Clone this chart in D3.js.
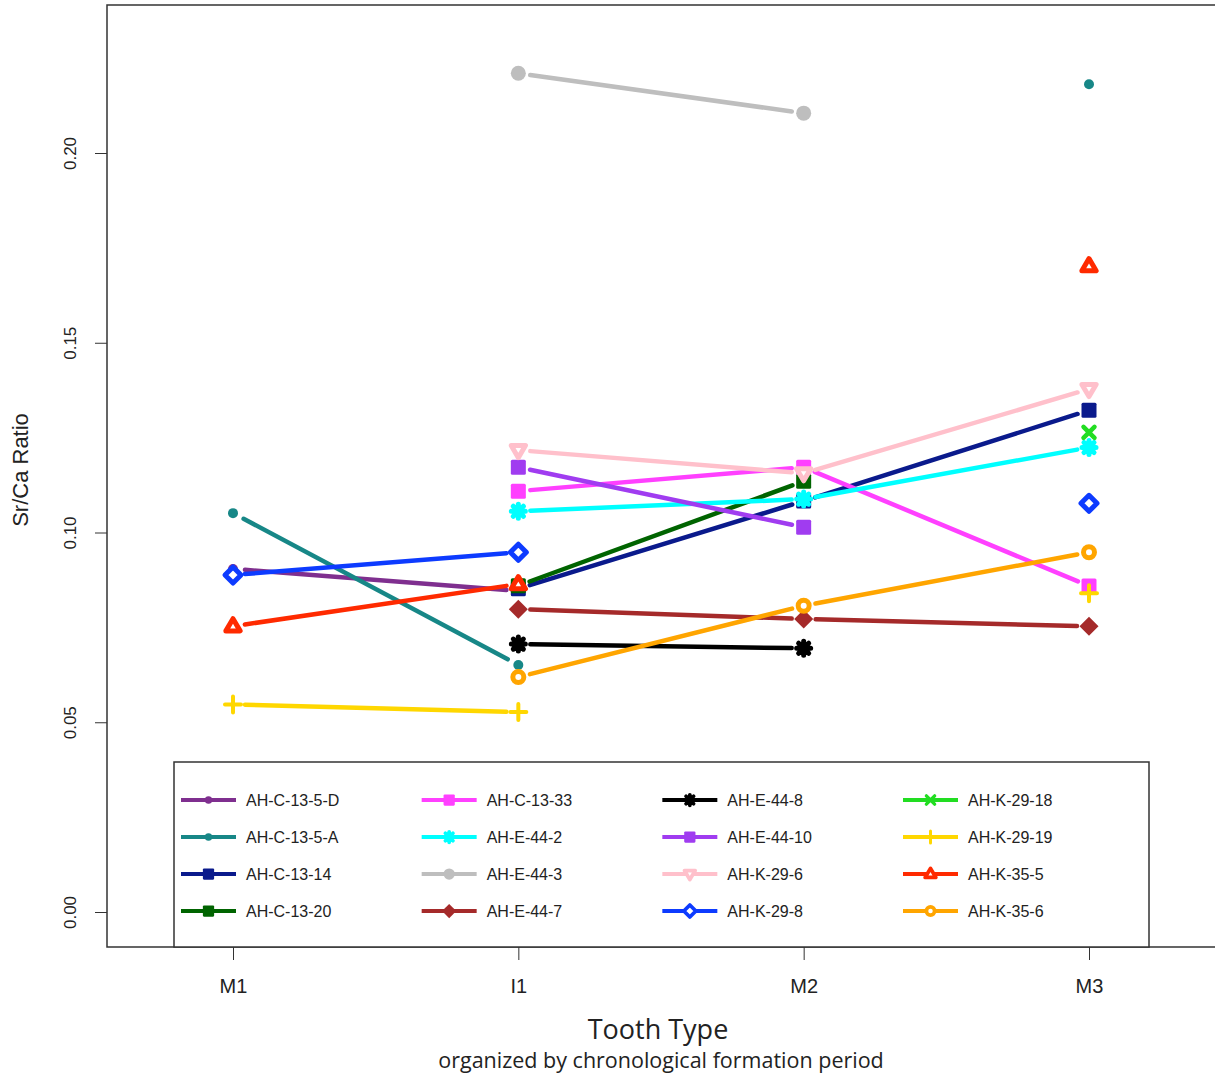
<!DOCTYPE html>
<html>
<head>
<meta charset="utf-8">
<script src="https://cdnjs.cloudflare.com/ajax/libs/d3/7.8.5/d3.min.js"></script>
<style>
  body { margin: 0; background: #fff; }
  text { font-family: "Liberation Sans", Arial, sans-serif; }
</style>
</head>
<body>
<div id="chart"></div>
<script>
// tooth types along x, in formation order
var toothTypes = ['M1', 'I1', 'M2', 'M3'];
var yTicks = [0, 0.05, 0.10, 0.15, 0.20];

// Sr/Ca ratio per sample (M1, I1, M2, M3), null = no tooth
var AH_C_13_5_D = [0.0904, 0.0846, null, null];
var AH_C_13_5_A = [0.1051, 0.0651, null, 0.2181];
var AH_C_13_14  = [null, 0.0852, 0.1083, 0.1322];
var AH_C_13_20  = [null, 0.0860, 0.1135, null];
var AH_C_13_33  = [null, 0.1109, 0.1172, 0.0859];
var AH_E_44_2   = [null, 0.1056, 0.1088, 0.1224];
var AH_E_44_3   = [null, 0.2210, 0.2105, null];
var AH_E_44_7   = [null, 0.0798, 0.0772, 0.0753];
var AH_E_44_8   = [null, 0.0706, 0.0695, null];
var AH_E_44_10  = [null, 0.1172, 0.1014, null];
var AH_K_29_6   = [null, 0.1217, 0.1156, 0.1378];
var AH_K_29_8   = [0.0888, 0.0948, null, 0.1077];
var AH_K_29_18  = [null, null, null, 0.1264];
var AH_K_29_19  = [0.0547, 0.0527, null, 0.0840];
var AH_K_35_5   = [0.0753, 0.0864, null, 0.1702];
var AH_K_35_6   = [null, 0.0619, 0.0807, 0.0948];

var sampleNames = ['AH-C-13-5-D', 'AH-C-13-5-A', 'AH-C-13-14', 'AH-C-13-20',
  'AH-C-13-33', 'AH-E-44-2', 'AH-E-44-3', 'AH-E-44-7',
  'AH-E-44-8', 'AH-E-44-10', 'AH-K-29-6', 'AH-K-29-8',
  'AH-K-29-18', 'AH-K-29-19', 'AH-K-35-5', 'AH-K-35-6'];
var sampleValues = [AH_C_13_5_D, AH_C_13_5_A, AH_C_13_14, AH_C_13_20,
  AH_C_13_33, AH_E_44_2, AH_E_44_3, AH_E_44_7,
  AH_E_44_8, AH_E_44_10, AH_K_29_6, AH_K_29_8,
  AH_K_29_18, AH_K_29_19, AH_K_35_5, AH_K_35_6];

// styles (colour + marker like R pch)
var colors = ['#7f2f8f', '#178787', '#0a1a8c', '#006400',
  '#ff40ff', '#00ffff', '#bebebe', '#a52a2a',
  '#000000', '#a03cf0', '#ffc0cb', '#0d3bff',
  '#22dd22', '#ffd700', '#ff2a00', '#ffa500'];
var markers = ['dot', 'dot', 'square', 'square',
  'square', 'star', 'circle', 'diamond',
  'star', 'square', 'triDownOpen', 'diamondOpen',
  'cross', 'plus', 'triOpen', 'circleOpen'];

var W = 1215, H = 1080;
var svg = d3.select('#chart').append('svg')
  .attr('width', W).attr('height', H);

var x = d3.scaleLinear().domain([1, 4]).range([233, 1089]);
var y = d3.scaleLinear().domain([0, 0.20]).range([912, 153]);

var boxTop = 5, boxBottom = 947, boxLeft = 107, boxRight = 1217;

// draw one marker at (0,0) inside group g, scale s
function drawMarker(g, type, color, s) {
  var sw = 4.5 * s;
  if (type === 'dot') {
    g.append('circle').attr('r', 5 * s).attr('fill', color);
  } else if (type === 'circle') {
    g.append('circle').attr('r', 7.5 * s).attr('fill', color);
  } else if (type === 'square') {
    g.append('rect').attr('x', -7.5 * s).attr('y', -7.5 * s)
      .attr('width', 15 * s).attr('height', 15 * s).attr('rx', 1.5 * s).attr('fill', color);
  } else if (type === 'diamond') {
    var h = 9.5 * s;
    g.append('path').attr('d', 'M0,' + (-h) + 'L' + h + ',0L0,' + h + 'L' + (-h) + ',0Z')
      .attr('fill', color);
  } else if (type === 'star') {
    var r = 7 * s;
    var p = 'M' + (-r) + ',0L' + r + ',0M0,' + (-r) + 'L0,' + r +
      'M' + (-r * 0.72) + ',' + (-r * 0.72) + 'L' + (r * 0.72) + ',' + (r * 0.72) +
      'M' + (-r * 0.72) + ',' + (r * 0.72) + 'L' + (r * 0.72) + ',' + (-r * 0.72);
    g.append('path').attr('d', p).attr('stroke', color)
      .attr('stroke-width', 5 * s).attr('stroke-linecap', 'round').attr('fill', 'none');
  } else if (type === 'cross') {
    var c = 5.5 * s;
    g.append('path').attr('d', 'M' + (-c) + ',' + (-c) + 'L' + c + ',' + c + 'M' + (-c) + ',' + c + 'L' + c + ',' + (-c))
      .attr('stroke', color).attr('stroke-width', sw).attr('stroke-linecap', 'round');
  } else if (type === 'plus') {
    var q = 8 * s;
    g.append('path').attr('d', 'M' + (-q) + ',0L' + q + ',0M0,' + (-q) + 'L0,' + q)
      .attr('stroke', color).attr('stroke-width', 4 * s).attr('stroke-linecap', 'round');
  } else if (type === 'circleOpen') {
    g.append('circle').attr('r', 5.5 * s).attr('fill', '#fff')
      .attr('stroke', color).attr('stroke-width', 5 * s);
  } else if (type === 'diamondOpen') {
    var d = 8 * s;
    g.append('path').attr('d', 'M0,' + (-d) + 'L' + d + ',0L0,' + d + 'L' + (-d) + ',0Z')
      .attr('fill', '#fff').attr('stroke', color).attr('stroke-width', 5 * s)
      .attr('stroke-linejoin', 'round');
  } else if (type === 'triOpen' || type === 'triDownOpen') {
    var t = 7.5 * s, dir = type === 'triOpen' ? 1 : -1;
    var pts = [[0, -t * dir], [t * 0.95, t * 0.62 * dir], [-t * 0.95, t * 0.62 * dir]];
    g.append('path').attr('d', d3.line()(pts) + 'Z')
      .attr('fill', '#fff').attr('stroke', color).attr('stroke-width', 5 * s)
      .attr('stroke-linejoin', 'round');
  }
}

// plot box
svg.append('path')
  .attr('d', 'M' + boxRight + ',' + boxTop + 'L' + boxLeft + ',' + boxTop +
    'L' + boxLeft + ',' + boxBottom + 'L' + boxRight + ',' + boxBottom)
  .attr('fill', 'none').attr('stroke', '#333').attr('stroke-width', 1.5);

// y axis
var yAxis = svg.append('g')
  .attr('transform', 'translate(' + boxLeft + ',0)')
  .call(d3.axisLeft(y).tickValues(yTicks).tickSize(12).tickFormat(d3.format('.2f')));
yAxis.select('.domain').remove();
yAxis.selectAll('line').attr('stroke', '#333');
yAxis.selectAll('text')
  .attr('font-size', 17).attr('fill', '#222')
  .attr('x', 0).attr('dy', 0).attr('y', 0)
  .attr('text-anchor', 'middle')
  .attr('transform', 'translate(-31,0) rotate(-90)');

// x axis
var xAxis = svg.append('g')
  .attr('transform', 'translate(0,' + boxBottom + ')')
  .call(d3.axisBottom(x).tickValues([1, 2, 3, 4]).tickSize(13)
    .tickFormat(function(d) { return toothTypes[d - 1]; }));
xAxis.select('.domain').remove();
xAxis.selectAll('line').attr('stroke', '#333');
xAxis.selectAll('text').attr('font-size', 20).attr('fill', '#222')
  .attr('y', 46).attr('dy', 0);

// axis titles
svg.append('text')
  .attr('transform', 'translate(28,470) rotate(-90)')
  .attr('text-anchor', 'middle').attr('font-size', 22).attr('fill', '#222')
  .text('Sr/Ca Ratio');
svg.append('text')
  .attr('x', 658).attr('y', 1039).attr('text-anchor', 'middle')
  .attr('font-size', 27).attr('fill', '#222')
  .style('font-family', '"Open Sans", sans-serif')
  .text('Tooth Type');
svg.append('text')
  .attr('x', 661).attr('y', 1068).attr('text-anchor', 'middle')
  .attr('font-size', 21.5).attr('fill', '#222')
  .style('font-family', '"Open Sans", sans-serif')
  .text('organized by chronological formation period');

// series: lines with gaps round the points (R type = "b"), then points
var gap = 12;
sampleValues.forEach(function(vals, k) {
  var g = svg.append('g');
  for (var i = 0; i < vals.length - 1; i++) {
    if (vals[i] == null || vals[i + 1] == null) continue;
    var x1 = x(i + 1), y1 = y(vals[i]), x2 = x(i + 2), y2 = y(vals[i + 1]);
    var len = Math.hypot(x2 - x1, y2 - y1);
    var ux = (x2 - x1) / len, uy = (y2 - y1) / len;
    g.append('line')
      .attr('x1', x1 + ux * gap).attr('y1', y1 + uy * gap)
      .attr('x2', x2 - ux * gap).attr('y2', y2 - uy * gap)
      .attr('stroke', colors[k]).attr('stroke-width', 4.5)
      .attr('stroke-linecap', 'round');
  }
  vals.forEach(function(v, i) {
    if (v == null) return;
    var m = g.append('g').attr('transform', 'translate(' + x(i + 1) + ',' + y(v) + ')');
    drawMarker(m, markers[k], colors[k], 1);
  });
});

// legend
var legend = svg.append('g');
legend.append('rect')
  .attr('x', 174).attr('y', 762).attr('width', 975).attr('height', boxBottom - 762)
  .attr('fill', '#fff').attr('stroke', '#333').attr('stroke-width', 1.5);

var colX = d3.scaleLinear().domain([0, 3]).range([181, 903]);
var rowY = d3.scaleLinear().domain([0, 3]).range([800, 911]);
sampleNames.forEach(function(name, k) {
  var cx = colX(Math.floor(k / 4)), cy = rowY(k % 4);
  var item = legend.append('g').attr('transform', 'translate(' + cx + ',' + cy + ')');
  item.append('line').attr('x1', 0).attr('x2', 55).attr('y1', 0).attr('y2', 0)
    .attr('stroke', colors[k]).attr('stroke-width', 4);
  var m = item.append('g').attr('transform', 'translate(27.5,0)');
  drawMarker(m, markers[k], colors[k], 0.75);
  item.append('text').attr('x', 65).attr('y', 0).attr('dy', '0.35em')
    .attr('font-size', 16).attr('fill', '#222').text(name);
});
</script>
</body>
</html>
